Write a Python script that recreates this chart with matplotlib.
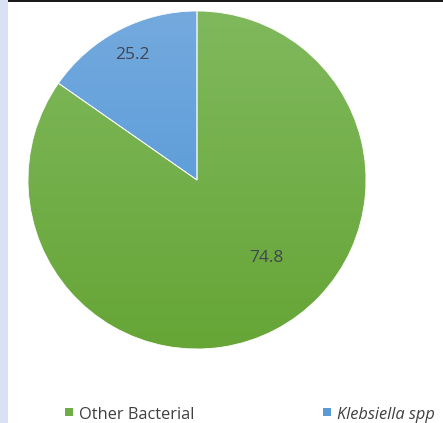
import numpy as np
import matplotlib.pyplot as plt
from matplotlib.colors import LinearSegmentedColormap
from matplotlib.patches import Rectangle

# Data (slice shares as drawn, labels as printed on the chart)
categories = ["Other Bacterial", "Klebsiella spp"]
shares = [84.7, 15.3]
value_labels = ["74.8", "25.2"]

top_colors = ["#80B95D", "#74AADE"]
bottom_colors = ["#66A536", "#4B93D6"]
flat_colors = ["#70AD47", "#5B9BD5"]

W, H = 443, 423
fig = plt.figure(figsize=(W / 100, H / 100), dpi=100)
fig.patch.set_facecolor("white")

# left strip and top border
fig.add_artist(Rectangle((0, 0), 8 / W, 1, transform=fig.transFigure,
                         facecolor="#D9E2F3", edgecolor="none"))
fig.add_artist(Rectangle((8 / W, 1 - 2 / H), 1, 2 / H, transform=fig.transFigure,
                         facecolor="#1A1A1A", edgecolor="none"))

# pie axes: center (197,180) px, radius 169 px
cx, cy, r = 197, 180, 169
ax = fig.add_axes([(cx - r) / W, (H - cy - r) / H, 2 * r / W, 2 * r / H])
wedges, _ = ax.pie(shares, colors=flat_colors, startangle=90, counterclock=False,
                   wedgeprops=dict(edgecolor="white", linewidth=0.6))

# vertical gradient fill clipped to each wedge
grad = np.linspace(0, 1, 256).reshape(-1, 1)
for w, c0, c1 in zip(wedges, top_colors, bottom_colors):
    cmap = LinearSegmentedColormap.from_list("g", [c0, c1])
    im = ax.imshow(grad, cmap=cmap, extent=[-1, 1, -1, 1], aspect="auto",
                   zorder=w.get_zorder() + 0.1)
    im.set_clip_path(w)
ax.set_xlim(-1.0, 1.0)
ax.set_ylim(-1.0, 1.0)
ax.axis("off")

# white separator lines on top of gradient
for w in wedges:
    w.set_facecolor("none")
    w.set_zorder(5)

label_pos = [(0.41, -0.46), (-0.38, 0.74)]
for (x, y), txt in zip(label_pos, value_labels):
    ax.text(x, y, txt, ha="center", va="center", fontsize=12.5,
            family="Open Sans", color="#404654", zorder=10)

# legend along the bottom (partially clipped as in the source)
legend_x = [65, 323]
for lx, name, col in zip(legend_x, categories, flat_colors):
    fig.add_artist(Rectangle((lx / W, (H - 416) / H), 8 / W, 8 / H,
                             transform=fig.transFigure, facecolor=col, edgecolor="none"))
    fig.text((lx + 14) / W, (H - 419) / H, name, ha="left", va="baseline",
             fontsize=11.8, family="Open Sans", color="#404040",
             style="italic" if name.startswith("Klebsiella") else "normal")

fig.savefig("out.png", dpi=100)
